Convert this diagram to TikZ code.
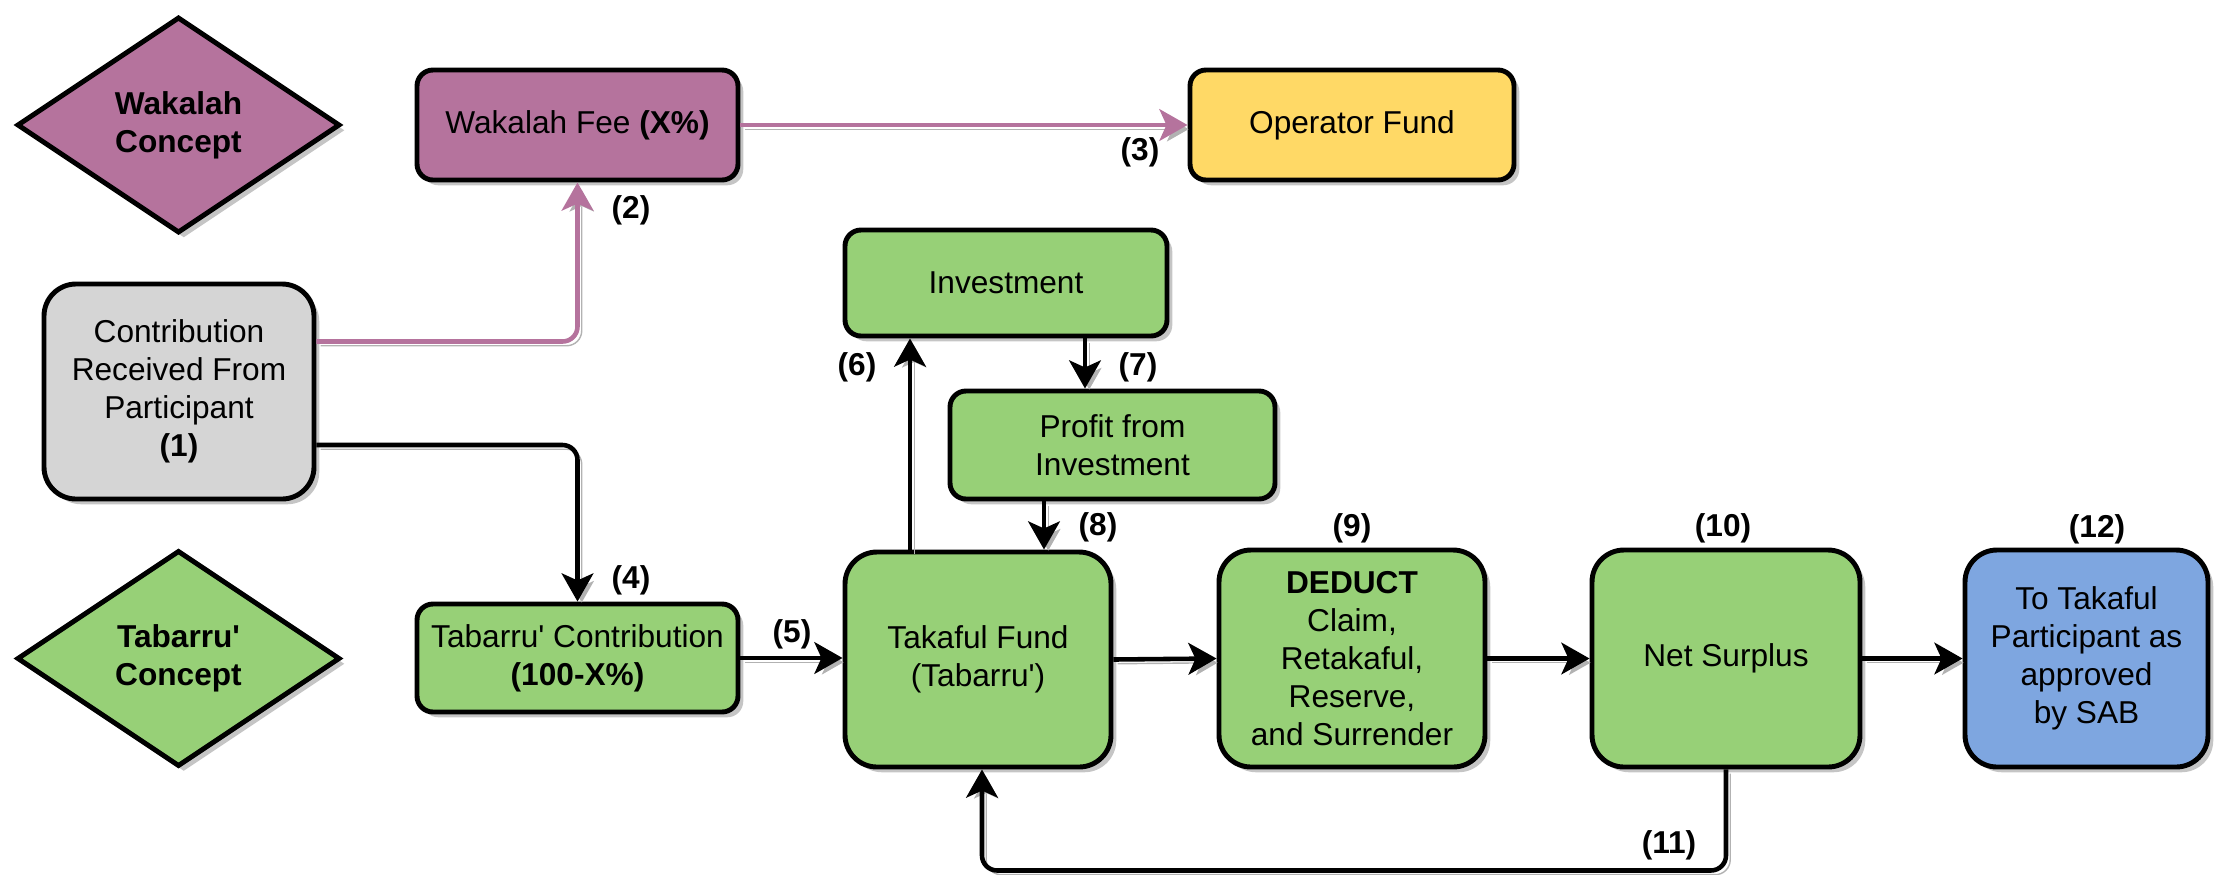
\documentclass[tikz,border=0pt]{standalone}
\usepackage{fontspec}
\setmainfont{Liberation Sans}
\usetikzlibrary{arrows.meta, positioning, shapes.geometric, shadows}
\definecolor{wakalah}{HTML}{B5739D}
\definecolor{tgreen}{HTML}{97D077}
\definecolor{opyellow}{HTML}{FFD966}
\definecolor{partblue}{HTML}{7EA6E0}
\definecolor{contribgray}{HTML}{D5D5D5}
\newcommand{\apos}{\textquotesingle}

\begin{document}
\begin{tikzpicture}[font=\fontsize{9}{10.8}\selectfont,
    boxshadow/.style={drop shadow={shadow xshift=1.5pt, shadow yshift=-1.5pt, fill=black!45, opacity=0.5}},
    box/.style={draw, line width=1.4pt, rounded corners=#1, align=center, inner sep=2pt, boxshadow},
    box/.default=0.16cm,
    concept/.style={diamond, draw, line width=1.4pt, aspect=1.5, minimum width=3.23cm, minimum height=2.16cm,
        inner sep=0pt, align=center, font=\fontsize{9}{10.8}\selectfont\bfseries, boxshadow},
    lbl/.style={inner sep=0pt, font=\fontsize{9}{10.8}\selectfont\bfseries},
    lineshadow/.style={preaction={draw=black!30, transform canvas={xshift=1.2pt, yshift=-1.2pt}}},
    flow/.style={-{Stealth[length=8pt, width=9pt, inset=2pt]}, line width=1.3pt, lineshadow},
    feeflow/.style={flow, draw=wakalah}]
    \useasboundingbox (0,0) rectangle (22.29,-8.74);

    % Concepts
    \node (wakalahC) [concept, fill=wakalah] at (1.785,-1.25) {Wakalah\\Concept};
    \node (tabarruC) [concept, fill=tgreen] at (1.785,-6.585) {Tabarru\apos\\Concept};

    % Wakalah row
    \node (fee) [box, fill=wakalah, minimum width=3.21cm, minimum height=1.10cm] at (5.775,-1.25) {Wakalah Fee \textbf{(X\%)}};
    \node (operator) [box, fill=opyellow, minimum width=3.24cm, minimum height=1.10cm] at (13.52,-1.25) {Operator Fund};

    % Participant
    \node (contrib) [box=0.32cm, fill=contribgray, minimum width=2.70cm, minimum height=2.15cm] at (1.79,-3.915)
        {Contribution\\Received From\\Participant\\\textbf{(1)}};

    % Tabarru' row
    \node (tcontrib) [box, fill=tgreen, minimum width=3.21cm, minimum height=1.08cm] at (5.775,-6.58)
        {Tabarru\apos{} Contribution\\\textbf{(100-X\%)}};
    \node (fund) [box=0.32cm, fill=tgreen, minimum width=2.66cm, minimum height=2.15cm] at (9.78,-6.595)
        {Takaful Fund\\(Tabarru\apos)};
    \node (invest) [box, fill=tgreen, minimum width=3.22cm, minimum height=1.06cm] at (10.06,-2.83) {Investment};
    \node (profit) [box, fill=tgreen, minimum width=3.25cm, minimum height=1.08cm] at (11.125,-4.45)
        {Profit from\\Investment};
    \node (deduct) [box=0.32cm, fill=tgreen, minimum width=2.66cm, minimum height=2.17cm] at (13.52,-6.585)
        {\textbf{DEDUCT}\\Claim,\\Retakaful,\\Reserve,\\and Surrender};
    \node (surplus) [box=0.32cm, fill=tgreen, minimum width=2.68cm, minimum height=2.17cm] at (17.26,-6.585) {Net Surplus};
    \node (toPart) [box=0.32cm, fill=partblue, minimum width=2.43cm, minimum height=2.17cm] at (20.865,-6.585)
        {To Takaful\\Participant as\\approved\\by SAB};

    % Edges
    \draw [feeflow, rounded corners=0.15cm] ([yshift=0.5cm]contrib.east) -| (fee.south);
    \draw [feeflow] (fee.east) -- (operator.west);
    \draw [flow, rounded corners=0.15cm] ([yshift=-0.535cm]contrib.east) -| (tcontrib.north);
    \draw [flow] (tcontrib.east) -- (tcontrib.east -| fund.west);
    \draw [flow] ([xshift=-0.68cm]fund.north) -- ([xshift=-0.68cm]fund.north |- invest.south);
    \draw [flow] ([xshift=0.79cm]invest.south) -- ([xshift=0.79cm]invest.south |- profit.north);
    \draw [flow] ([xshift=-0.685cm]profit.south) -- ([xshift=-0.685cm]profit.south |- fund.north);
    \draw [flow] (fund.east) -- (deduct.west);
    \draw [flow] (deduct.east) -- (surplus.west);
    \draw [flow] (surplus.east) -- (toPart.west);
    \draw [flow, rounded corners=0.15cm] (surplus.south) -- ++(0,-1.01) -| ([xshift=0.04cm]fund.south);

    % Step numbers
    \node (n2) [lbl] at (6.31,-2.10) {(2)};
    \node (n3) [lbl] at (11.40,-1.52) {(3)};
    \node (n4) [lbl] at (6.31,-5.80) {(4)};
    \node (n5) [lbl] at (7.92,-6.34) {(5)};
    \node (n6) [lbl] at (8.57,-3.67) {(6)};
    \node (n7) [lbl] at (11.38,-3.67) {(7)};
    \node (n8) [lbl] at (10.98,-5.27) {(8)};
    \node (n9) [lbl] at (13.52,-5.28) {(9)};
    \node (n10) [lbl] at (17.23,-5.28) {(10)};
    \node (n11) [lbl] at (16.69,-8.45) {(11)};
    \node (n12) [lbl] at (20.97,-5.29) {(12)};
\end{tikzpicture}
\end{document}
